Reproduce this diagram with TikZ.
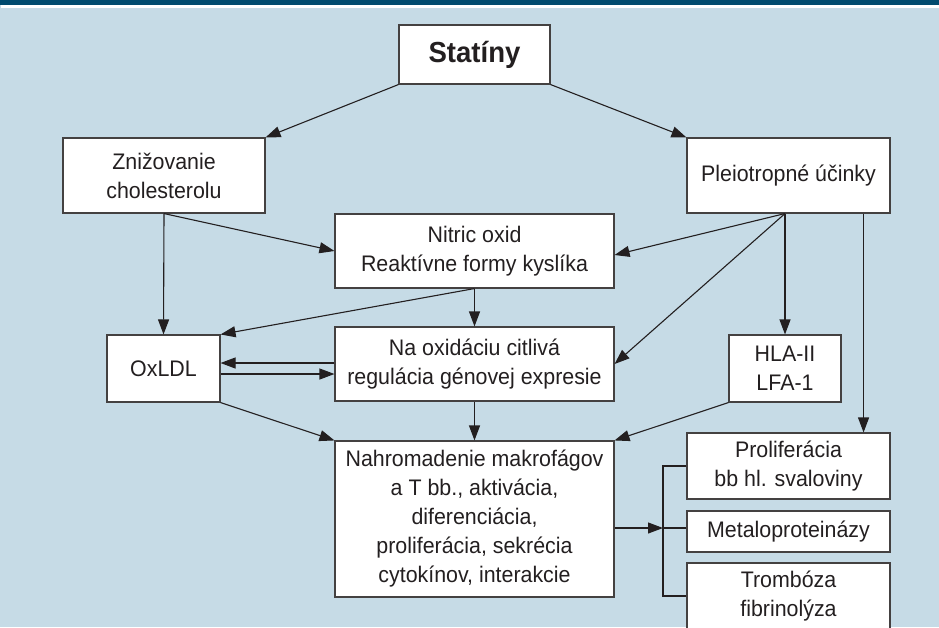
\documentclass[tikz,border=0pt]{standalone}
\usepackage{fontspec}
\setmainfont{Liberation Sans}[FakeStretch=0.95]
\usetikzlibrary{arrows.meta,calc}
\definecolor{bg}{HTML}{C6DBE6}
\definecolor{band}{HTML}{004A6E}
\definecolor{ink}{HTML}{231F20}
\begin{document}
\begin{tikzpicture}[x=1pt,y=-1pt,
  box/.style={draw=ink!85, line width=1.1pt, fill=white, inner sep=0pt, align=center,
    font=\fontsize{22.5}{29}\selectfont, text=ink},
  conn/.style={draw=ink, line width=1.1pt},
  arr/.style={conn,-{Triangle[length=15pt,width=11pt]}}]
\useasboundingbox (0,0) rectangle (939,627);
\clip (0,0) rectangle (939,627);
\fill[bg] (0,0) rectangle (939,627);
\fill[band] (0,0) rectangle (939,4.5);
\fill[white] (1,5) rectangle (939,7.5);

\node[box, minimum width=151, minimum height=59, font=\fontsize{29}{34}\bfseries\selectfont] (stat) at (474.5,54.5) {Statíny};
\node[box, minimum width=202, minimum height=75] (zniz) at (164,175.5) {Znižovanie\\cholesterolu};
\node[box, minimum width=203, minimum height=75] (pleio) at (788.5,175.5) {Pleiotropné účinky};
\node[box, minimum width=279, minimum height=74] (nitric) at (474.5,251) {Nitric oxid\\Reaktívne formy kyslíka};
\node[box, minimum width=279, minimum height=74] (na) at (474.5,364) {Na oxidáciu citlivá\\regulácia génovej expresie};
\node[box, minimum width=113, minimum height=67] (oxldl) at (163.5,368.5) {OxLDL};
\node[box, minimum width=112, minimum height=67] (hla) at (785,368.5) {HLA-II\\LFA-1};
\node[box, minimum width=279, minimum height=156] (nahr) at (474.5,519) {Nahromadenie makrofágov\\a T bb., aktivácia,\\diferenciácia,\\proliferácia, sekrécia\\cytokínov, interakcie};
\node[box, minimum width=203, minimum height=66] (prolif) at (788.5,466) {Proliferácia\\bb hl. svaloviny};
\node[box, minimum width=203, minimum height=41] (metal) at (788.5,531.5) {Metaloproteinázy};
\node[box, minimum width=203, minimum height=66] (tromb) at (788.5,596) {Trombóza\\fibrinolýza};

\coordinate (pc) at (hla.north |- pleio.south);
\coordinate (pr) at ($(pleio.south east)+(-27,0)$);
\coordinate (br) at (663,528);

\draw[arr] (stat.south west) -- (zniz.north east);
\draw[arr] (stat.south east) -- (pleio.north west);
\draw[arr] (zniz.south) -- (oxldl.north);
\draw[arr] (zniz.south) -- (nitric.west);
\draw[arr] (pc) -- ($(nitric.east)+(0,4)$);
\draw[arr] (pc) -- (na.east);
\draw[arr] (pc) -- (hla.north);
\draw[arr] (pr) -- (pr |- prolif.north);
\draw[arr] (nitric.south) -- (na.north);
\draw[arr] (nitric.south) -- (oxldl.north east);
\draw[arr] ($(na.west)+(0,-1)$) -- ($(oxldl.east)+(0,-5.5)$);
\draw[arr] ($(oxldl.east)+(0,5.5)$) -- ($(na.west)+(0,10)$);
\draw[arr] (oxldl.south east) -- (nahr.north west);
\draw[arr] (na.south) -- (nahr.north);
\draw[arr] (hla.south west) -- (nahr.north east);
\draw[arr] (nahr.east |- br) -- (br);
\draw[conn] (prolif.west) -| (br) |- (tromb.west);
\draw[conn] (br) -- (br -| metal.west);
\end{tikzpicture}
\end{document}
